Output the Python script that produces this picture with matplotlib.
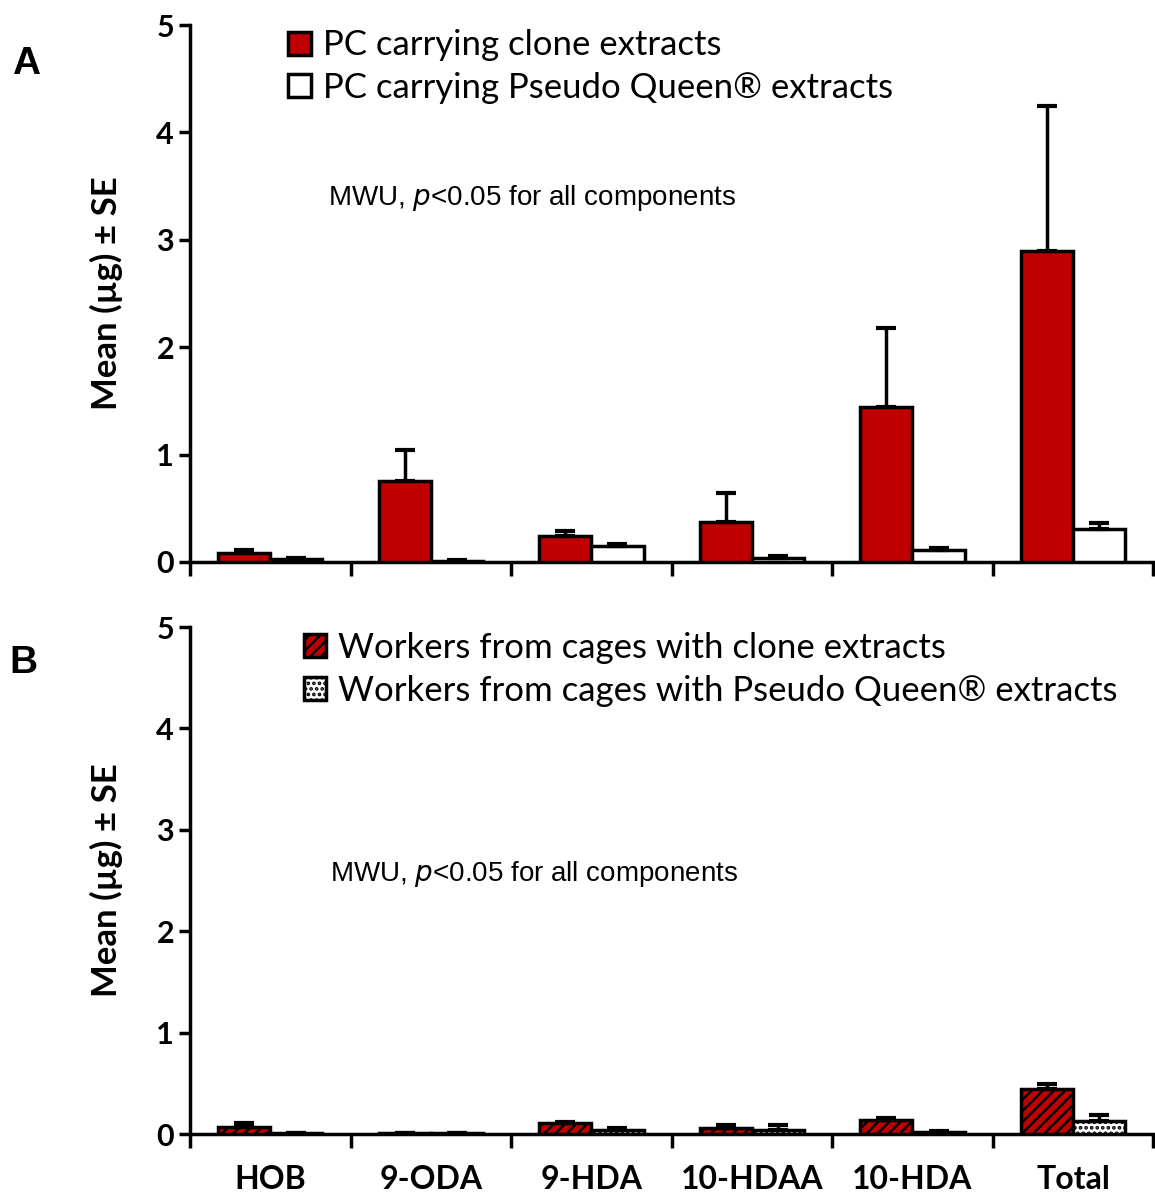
import numpy as np
import matplotlib.pyplot as plt
from matplotlib.patches import Patch

plt.rcParams['font.family'] = ['Lato', 'DejaVu Sans']
plt.rcParams['hatch.linewidth'] = 1.8

components = ['HOB', '9-ODA', '9-HDA', '10-HDAA', '10-HDA', 'Total']

# panel A: pheromone carriers (PC)
pc_clone = [0.08, 0.75, 0.24, 0.37, 1.44, 2.90]
pc_clone_se = [0.03, 0.29, 0.05, 0.27, 0.74, 1.35]
pc_pq = [0.03, 0.01, 0.15, 0.04, 0.11, 0.31]
pc_pq_se = [0.01, 0.005, 0.02, 0.02, 0.02, 0.05]

# panel B: workers
wk_clone = [0.07, 0.01, 0.11, 0.06, 0.14, 0.44]
wk_clone_se = [0.04, 0.005, 0.01, 0.03, 0.02, 0.05]
wk_pq = [0.01, 0.01, 0.04, 0.04, 0.02, 0.13]
wk_pq_se = [0.005, 0.005, 0.02, 0.05, 0.01, 0.06]

red = '#C00000'
x = np.arange(len(components))
w = 0.325

fig = plt.figure(figsize=(11.55, 11.98), dpi=100)
axA = fig.add_axes([0.1645, 0.5309, 0.834, 0.4482])
axB = fig.add_axes([0.1645, 0.0534, 0.834, 0.4232])


def draw(ax, v1, e1, v2, e2, h1=None, h2=None):
    err_kw = dict(elinewidth=2.5, capthick=3, capsize=7, ecolor='black')
    ax.bar(x - w / 2, v1, w, yerr=[np.zeros(len(v1)), e1], color=red,
           edgecolor='black', linewidth=2.5, hatch=h1, error_kw=err_kw, zorder=3)
    ax.bar(x + w / 2, v2, w, yerr=[np.zeros(len(v2)), e2], color='white',
           edgecolor='black', linewidth=2.5, hatch=h2, error_kw=err_kw, zorder=3)
    ax.set_xlim(-0.5, 5.5)
    ax.set_ylim(0, 5)
    ax.set_yticks(range(6))
    ax.set_xticks(np.arange(-0.5, 6, 1))
    ax.set_xticklabels([])
    ax.set_xticks(x, minor=True)
    ax.tick_params(axis='x', which='minor', length=0)
    ax.tick_params(axis='x', which='major', direction='out', length=10, width=2.5)
    ax.tick_params(axis='y', direction='out', length=8, width=2.5, labelsize=22)
    for t in ax.get_yticklabels():
        t.set_fontweight('bold')
    for s in ['top', 'right']:
        ax.spines[s].set_visible(False)
    for s in ['left', 'bottom']:
        ax.spines[s].set_linewidth(2.5)
    ax.set_ylabel('Mean (µg) ± SE', fontsize=25, fontweight='bold', labelpad=24)


draw(axA, pc_clone, pc_clone_se, pc_pq, pc_pq_se)
draw(axB, wk_clone, wk_clone_se, wk_pq, wk_pq_se, h1='///', h2='...')

axB.set_xticklabels(components, minor=True, fontsize=23, fontweight='bold')
axB.tick_params(axis='x', which='minor', pad=22)

axA.text(0.143, 0.665, 'MWU, $\\it{p}$<0.05 for all components', transform=axA.transAxes,
         fontsize=20, family='Liberation Sans')
axB.text(0.145, 0.5, 'MWU, $\\it{p}$<0.05 for all components', transform=axB.transAxes,
         fontsize=20, family='Liberation Sans')

fig.text(0.01, 0.938, 'A', fontsize=28, fontweight='bold', family='Liberation Sans')
fig.text(0.008, 0.438, 'B', fontsize=28, fontweight='bold', family='Liberation Sans')

leg_kw = dict(loc='upper left', frameon=False, fontsize=25, borderpad=0, borderaxespad=0,
              handlelength=0.65, handleheight=0.65, handletextpad=0.35, labelspacing=0.3)
hA = [Patch(facecolor=red, edgecolor='black', linewidth=2.5),
      Patch(facecolor='white', edgecolor='black', linewidth=2.5)]
axA.legend(hA, ['PC carrying clone extracts', 'PC carrying Pseudo Queen® extracts'],
           bbox_to_anchor=(0.102, 0.992), **leg_kw)
hB = [Patch(facecolor=red, edgecolor='black', linewidth=2.5, hatch='///'),
      Patch(facecolor='white', edgecolor='black', linewidth=2.5, hatch='...')]
axB.legend(hB, ['Workers from cages with clone extracts',
                'Workers from cages with Pseudo Queen® extracts'],
           bbox_to_anchor=(0.118, 0.99), **leg_kw)

fig.savefig('out.png', dpi=100)
